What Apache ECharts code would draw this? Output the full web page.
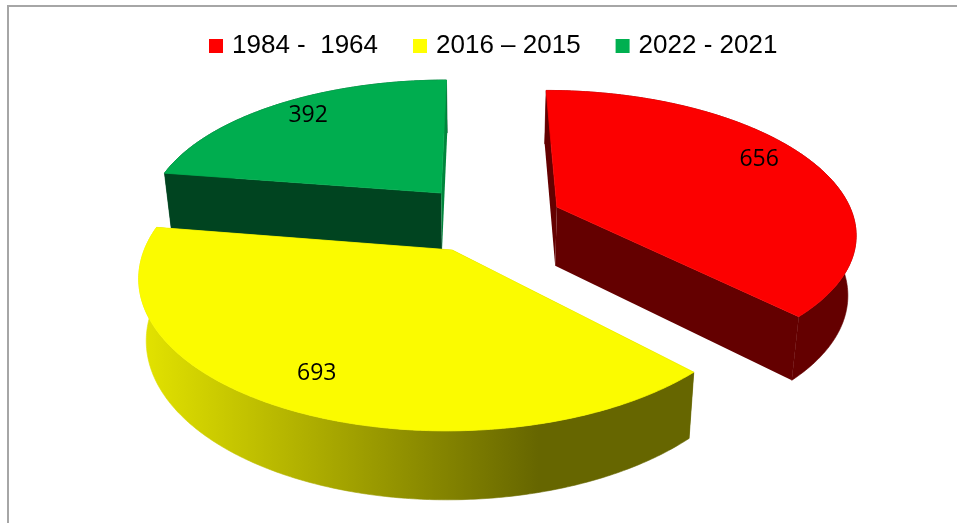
<!DOCTYPE html>
<html>
<head>
<meta charset="utf-8">
<style>html,body{margin:0;padding:0;background:#fff}#c{width:957px;height:523px}</style>
<script src="https://cdn.jsdelivr.net/npm/echarts@6/dist/echarts.min.js"></script>
</head>
<body>
<div id="c"></div>
<script>
const categories = ['1984 -  1964', '2016 – 2015', '2022 - 2021'];
const values = [656, 693, 392];

const view = { x0: 480, y0: 193, rx: 288, ry: 131, persp: 0.16, depth: 58, shrink: 0.978 };
const sliceLook = [
  { off: [0.2625, 0.105], legend: '#ff0000', top: '#fc0000', wallStart: '#640000', wallEnd: '#640000', outer: '#640000', z: 1, lf: 0.8, nudge: [-1, -9], outerFirst: false },
  { off: [-0.09, 0.407], legend: '#ffff00', top: '#fbfb00', wallStart: '#666600', wallEnd: '#666600',
    outer: { type: 'linear', x: 0, y: 0, x2: 1, y2: 0, colorStops: [
      { offset: 0, color: '#e4e400' }, { offset: 0.72, color: '#666600' }, { offset: 1, color: '#666600' }] },
    z: 3, lf: 0.8, nudge: [-3, 2], outerFirst: false },
  { off: [-0.135, 0], legend: '#00b050', top: '#00ad4f', wallStart: '#004420', wallEnd: '#00863c', outer: '#004420', z: 2, lf: 0.8, nudge: [0, -5], outerFirst: true }
];

const total = values.reduce((a, b) => a + b, 0);
function startAngle(i) {
  let s = 0;
  for (let j = 0; j < i; j++) s += values[j];
  return s / total * Math.PI * 2;
}
function project(off, th, f, bottom) {
  const X = off[0] + f * Math.sin(th);
  const Y = off[1] - f * Math.cos(th);
  const s = 1 / (1 - view.persp * Y);
  if (!bottom) return [view.x0 + view.rx * s * X, view.y0 + view.ry * s * Y];
  return [view.x0 + view.shrink * view.rx * s * X,
          view.y0 + view.ry * s * Y + view.depth * (1 + 0.65 * (s - 1))];
}
function renderSlice(i) {
  return function (params, api) {
    const look = sliceLook[i];
    const a0 = startAngle(i);
    const a1 = a0 + api.value(0) / total * Math.PI * 2;
    const n = Math.max(8, Math.round((a1 - a0) * 90));
    const topArc = [], botArc = [];
    for (let k = 0; k <= n; k++) {
      const t = a0 + (a1 - a0) * k / n;
      topArc.push(project(look.off, t, 1, false));
      botArc.push(project(look.off, t, 1, true));
    }
    const at = project(look.off, 0, 0, false);
    const ab = project(look.off, 0, 0, true);
    const poly = (pts, fill, lw) => ({ type: 'polygon', silent: true, shape: { points: pts },
      style: lw ? { fill: fill, stroke: fill, lineWidth: lw } : { fill: fill } });
    const mid = (a0 + a1) / 2;
    const lp = project(look.off, mid, look.lf, false);
    const walls = [
      poly([at, topArc[0], botArc[0], ab], look.wallStart),
      poly([at, topArc[n], botArc[n], ab], look.wallEnd)
    ];
    const outer = poly(topArc.concat(botArc.slice().reverse()), look.outer, 0.6);
    const sides = look.outerFirst ? [outer].concat(walls) : walls.concat([outer]);
    return {
      type: 'group',
      children: sides.concat([
        poly([at].concat(topArc), look.top, 0.8),
        { type: 'text', silent: true, x: lp[0] + look.nudge[0], y: lp[1] + look.nudge[1],
          style: { text: String(api.value(0)), fill: '#000', font: '23px "Open Sans"', align: 'center', verticalAlign: 'middle' } }
      ])
    };
  };
}

const chart = echarts.init(document.getElementById('c'), null, { renderer: 'canvas' });
chart.setOption({
  animation: false,
  backgroundColor: '#fff',
  legend: {
    left: 204, top: 28, itemWidth: 14, itemHeight: 14, itemGap: 35, icon: 'rect',
    data: categories,
    textStyle: { fontFamily: 'Liberation Sans', fontSize: 26, color: '#000', padding: [0, 0, 6, 4] }
  },
  graphic: [
    { type: 'line', silent: true, shape: { x1: 8, y1: 6, x2: 957, y2: 6 }, style: { stroke: '#a6a6a6', lineWidth: 2 } },
    { type: 'line', silent: true, shape: { x1: 8, y1: 5, x2: 8, y2: 523 }, style: { stroke: '#a6a6a6', lineWidth: 2 } }
  ],
  series: categories.map((name, i) => ({
    type: 'custom', name: name, coordinateSystem: 'none', z: sliceLook[i].z,
    itemStyle: { color: sliceLook[i].legend },
    renderItem: renderSlice(i),
    data: [values[i]]
  }))
});
</script>
</body>
</html>
